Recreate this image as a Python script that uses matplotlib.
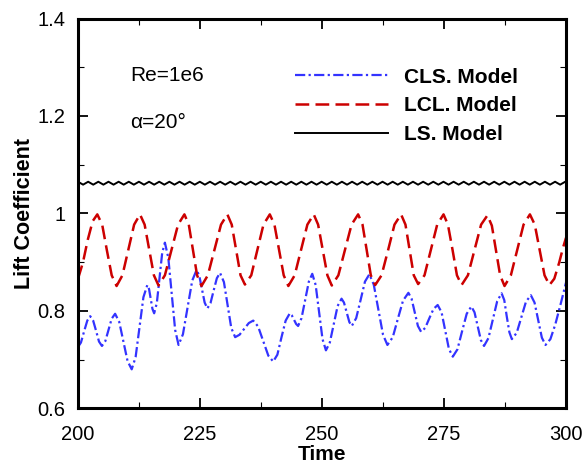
import matplotlib
matplotlib.use("Agg")
import matplotlib.pyplot as plt
from matplotlib.ticker import MultipleLocator, FormatStrFormatter

plt.rcParams['font.family'] = ['Liberation Sans', 'DejaVu Sans']

# CLS model (blue dash-dot)
cls_time = [200.0, 200.6, 201.25, 201.9, 202.5, 203.1, 203.7, 204.3, 204.9,
            205.6, 206.25, 206.9, 207.6, 208.45, 209.3, 210.15, 211.0,
            211.8, 212.6, 213.4, 214.2, 214.55, 214.9, 215.25, 215.6,
            216.15, 216.7, 217.25, 217.8, 218.5, 219.2, 219.9, 220.6,
            221.5, 222.45, 223.4, 224.3, 224.85, 225.4, 225.95, 226.5,
            227.15, 227.8, 228.45, 229.1, 229.9, 230.65, 231.4, 232.2,
            233.1, 234.05, 235.0, 235.9, 236.9, 237.95, 239.0, 240.0,
            240.85, 241.7, 242.55, 243.4, 243.8, 244.25, 244.7, 245.1,
            245.8, 246.55, 247.3, 248.0, 248.7, 249.4, 250.1, 250.8,
            251.6, 252.4, 253.2, 254.0, 254.5, 255.05, 255.6, 256.1,
            257.0, 257.9, 258.8, 259.7, 260.6, 261.55, 262.5, 263.4,
            264.5, 265.55, 266.6, 267.7, 268.35, 269.0, 269.65, 270.3,
            271.15, 272.0, 272.85, 273.7, 274.5, 275.25, 276.0, 276.8,
            277.75, 278.7, 279.65, 280.6, 281.25, 281.9, 282.55, 283.2,
            284.1, 285.0, 285.9, 286.8, 287.35, 287.85, 288.4, 288.9,
            289.9, 290.85, 291.8, 292.8, 293.55, 294.3, 295.05, 295.8,
            296.8, 297.8, 298.8, 300.0]
cls_lift = [0.726, 0.735, 0.758, 0.780, 0.789, 0.780, 0.759, 0.737, 0.728,
            0.738, 0.761, 0.784, 0.794, 0.777, 0.737, 0.697, 0.680,
            0.705, 0.767, 0.828, 0.853, 0.845, 0.824, 0.804, 0.795,
            0.816, 0.868, 0.919, 0.940, 0.909, 0.835, 0.761, 0.730,
            0.752, 0.807, 0.862, 0.884, 0.872, 0.845, 0.817, 0.805,
            0.816, 0.842, 0.867, 0.878, 0.859, 0.812, 0.765, 0.746,
            0.751, 0.763, 0.775, 0.780, 0.768, 0.738, 0.708, 0.696,
            0.710, 0.746, 0.780, 0.795, 0.791, 0.782, 0.773, 0.769,
            0.785, 0.823, 0.860, 0.876, 0.853, 0.798, 0.742, 0.719,
            0.735, 0.772, 0.810, 0.825, 0.817, 0.797, 0.777, 0.769,
            0.785, 0.822, 0.860, 0.875, 0.854, 0.803, 0.751, 0.730,
            0.746, 0.784, 0.821, 0.837, 0.825, 0.797, 0.769, 0.757,
            0.765, 0.785, 0.804, 0.812, 0.797, 0.759, 0.722, 0.706,
            0.721, 0.758, 0.794, 0.809, 0.797, 0.769, 0.740, 0.728,
            0.744, 0.782, 0.820, 0.836, 0.822, 0.789, 0.756, 0.742,
            0.755, 0.787, 0.819, 0.832, 0.817, 0.781, 0.745, 0.730,
            0.742, 0.772, 0.810, 0.858]

# LCL model (red dashed)
lcl_time = [200.0, 201.0, 202.0, 203.0, 203.95, 204.95, 205.9, 206.9, 207.9,
            209.1, 210.3, 211.5, 212.7, 213.65, 214.6, 215.55, 216.5,
            217.8, 219.15, 220.5, 221.8, 222.7, 223.55, 224.4, 225.3,
            226.6, 227.95, 229.3, 230.6, 231.5, 232.4, 233.3, 234.2,
            235.5, 236.75, 238.0, 239.3, 240.25, 241.2, 242.15, 243.1,
            244.4, 245.7, 247.0, 248.3, 249.2, 250.15, 251.1, 252.0,
            253.35, 254.7, 256.05, 257.4, 258.3, 259.15, 260.0, 260.9,
            262.2, 263.55, 264.85, 266.2, 267.1, 267.95, 268.8, 269.7,
            271.0, 272.3, 273.6, 274.9, 275.8, 276.75, 277.65, 278.6,
            279.9, 281.25, 282.6, 283.9, 284.8, 285.65, 286.5, 287.4,
            288.7, 290.0, 291.3, 292.6, 293.6, 294.6, 295.6, 296.6,
            297.6, 298.6, 299.4, 300.0]
lcl_lift = [0.866, 0.899, 0.946, 0.984, 0.998, 0.977, 0.925, 0.873, 0.851,
            0.873, 0.925, 0.977, 0.998, 0.977, 0.925, 0.873, 0.852,
            0.873, 0.925, 0.977, 0.998, 0.977, 0.925, 0.873, 0.851,
            0.873, 0.925, 0.977, 0.998, 0.977, 0.925, 0.873, 0.854,
            0.873, 0.925, 0.977, 0.998, 0.977, 0.925, 0.873, 0.851,
            0.873, 0.925, 0.977, 0.998, 0.977, 0.925, 0.873, 0.852,
            0.873, 0.925, 0.977, 0.998, 0.977, 0.925, 0.873, 0.853,
            0.873, 0.925, 0.977, 0.998, 0.977, 0.925, 0.873, 0.855,
            0.873, 0.925, 0.977, 0.998, 0.977, 0.925, 0.873, 0.853,
            0.873, 0.925, 0.977, 0.996, 0.975, 0.924, 0.873, 0.851,
            0.873, 0.925, 0.977, 0.998, 0.977, 0.925, 0.873, 0.853,
            0.866, 0.899, 0.930, 0.950]

# LS model (black solid, small ripple)
ls_time = [200.00, 201.04, 202.08, 203.12, 204.16, 205.20, 206.24, 207.28, 208.32, 209.36,
           210.40, 211.44, 212.48, 213.52, 214.56, 215.60, 216.64, 217.68, 218.72, 219.76,
           220.80, 221.84, 222.88, 223.92, 224.96, 226.00, 227.04, 228.08, 229.12, 230.16,
           231.20, 232.24, 233.28, 234.32, 235.36, 236.40, 237.44, 238.48, 239.52, 240.56,
           241.60, 242.64, 243.68, 244.72, 245.76, 246.80, 247.84, 248.88, 249.92, 250.96,
           252.00, 253.04, 254.08, 255.12, 256.16, 257.20, 258.24, 259.28, 260.32, 261.36,
           262.40, 263.44, 264.48, 265.52, 266.56, 267.60, 268.64, 269.68, 270.72, 271.76,
           272.80, 273.84, 274.88, 275.92, 276.96, 278.00, 279.04, 280.08, 281.12, 282.16,
           283.20, 284.24, 285.28, 286.32, 287.36, 288.40, 289.44, 290.48, 291.52, 292.56,
           293.60, 294.64, 295.68, 296.72, 297.76, 298.80, 299.84]
ls_lift = [1.065, 1.059, 1.065, 1.059, 1.065, 1.059, 1.065, 1.059, 1.065, 1.059,
           1.065, 1.059, 1.065, 1.059, 1.065, 1.059, 1.065, 1.059, 1.065, 1.059,
           1.065, 1.059, 1.065, 1.059, 1.065, 1.059, 1.065, 1.059, 1.065, 1.059,
           1.065, 1.059, 1.065, 1.059, 1.065, 1.059, 1.065, 1.059, 1.065, 1.059,
           1.065, 1.059, 1.065, 1.059, 1.065, 1.059, 1.065, 1.059, 1.065, 1.059,
           1.065, 1.059, 1.065, 1.059, 1.065, 1.059, 1.065, 1.059, 1.065, 1.059,
           1.065, 1.059, 1.065, 1.059, 1.065, 1.059, 1.065, 1.059, 1.065, 1.059,
           1.065, 1.059, 1.065, 1.059, 1.065, 1.059, 1.065, 1.059, 1.065, 1.059,
           1.065, 1.059, 1.065, 1.059, 1.065, 1.059, 1.065, 1.059, 1.065, 1.059,
           1.065, 1.059, 1.065, 1.059, 1.065, 1.059, 1.065]

xticks = [200, 225, 250, 275, 300]
yticks = [0.6, 0.8, 1.0, 1.2, 1.4]

fig = plt.figure(figsize=(5.84, 4.66), dpi=100)
ax = fig.add_axes([0.1336, 0.1238, 0.8356, 0.8365])

ax.plot(cls_time, cls_lift, color='#3333FF', linewidth=1.6,
        dashes=(4.6, 1.5, 1.0, 1.5), label='CLS. Model')
ax.plot(lcl_time, lcl_lift, color='#CC0000', linewidth=1.8,
        dashes=(5.5, 2.5), label='LCL. Model')
ax.plot(ls_time, ls_lift, color='black', linewidth=1.4,
        solid_joinstyle='round', label='LS. Model')

ax.set_xlim(200, 300)
ax.set_ylim(0.6, 1.4)
ax.set_xticks(xticks)
ax.set_yticks(yticks)
ax.xaxis.set_minor_locator(MultipleLocator(12.5))
ax.yaxis.set_minor_locator(MultipleLocator(0.1))
ax.yaxis.set_major_formatter(FormatStrFormatter('%g'))

ax.tick_params(which='both', direction='in', top=True, right=True, labelsize=14.5)
ax.tick_params(which='major', length=7, width=1.3)
ax.tick_params(which='minor', length=4.5, width=0.8)
ax.tick_params(axis='y', pad=9)
ax.tick_params(axis='x', pad=12)
for s in ax.spines.values():
    s.set_linewidth(2.2)

ax.set_xlabel('Time', fontsize=15, fontweight='bold', labelpad=1)
ax.set_ylabel('Lift Coefficient', fontsize=15.5, fontweight='bold', labelpad=1.5)

ax.text(210.7, 1.284, 'Re=1e6', fontsize=15, va='center', ha='left')
ax.text(210.7, 1.186, 'α=20°', fontsize=15, va='center', ha='left')

ax.legend(loc='upper left', bbox_to_anchor=(0.505, 0.855), bbox_transform=fig.transFigure,
          frameon=False, borderpad=0, borderaxespad=0, handlelength=4.45,
          handletextpad=0.8, labelspacing=0.47,
          prop={'family': 'Liberation Sans', 'weight': 'bold', 'size': 15})

fig.savefig('out.png', dpi=100)
